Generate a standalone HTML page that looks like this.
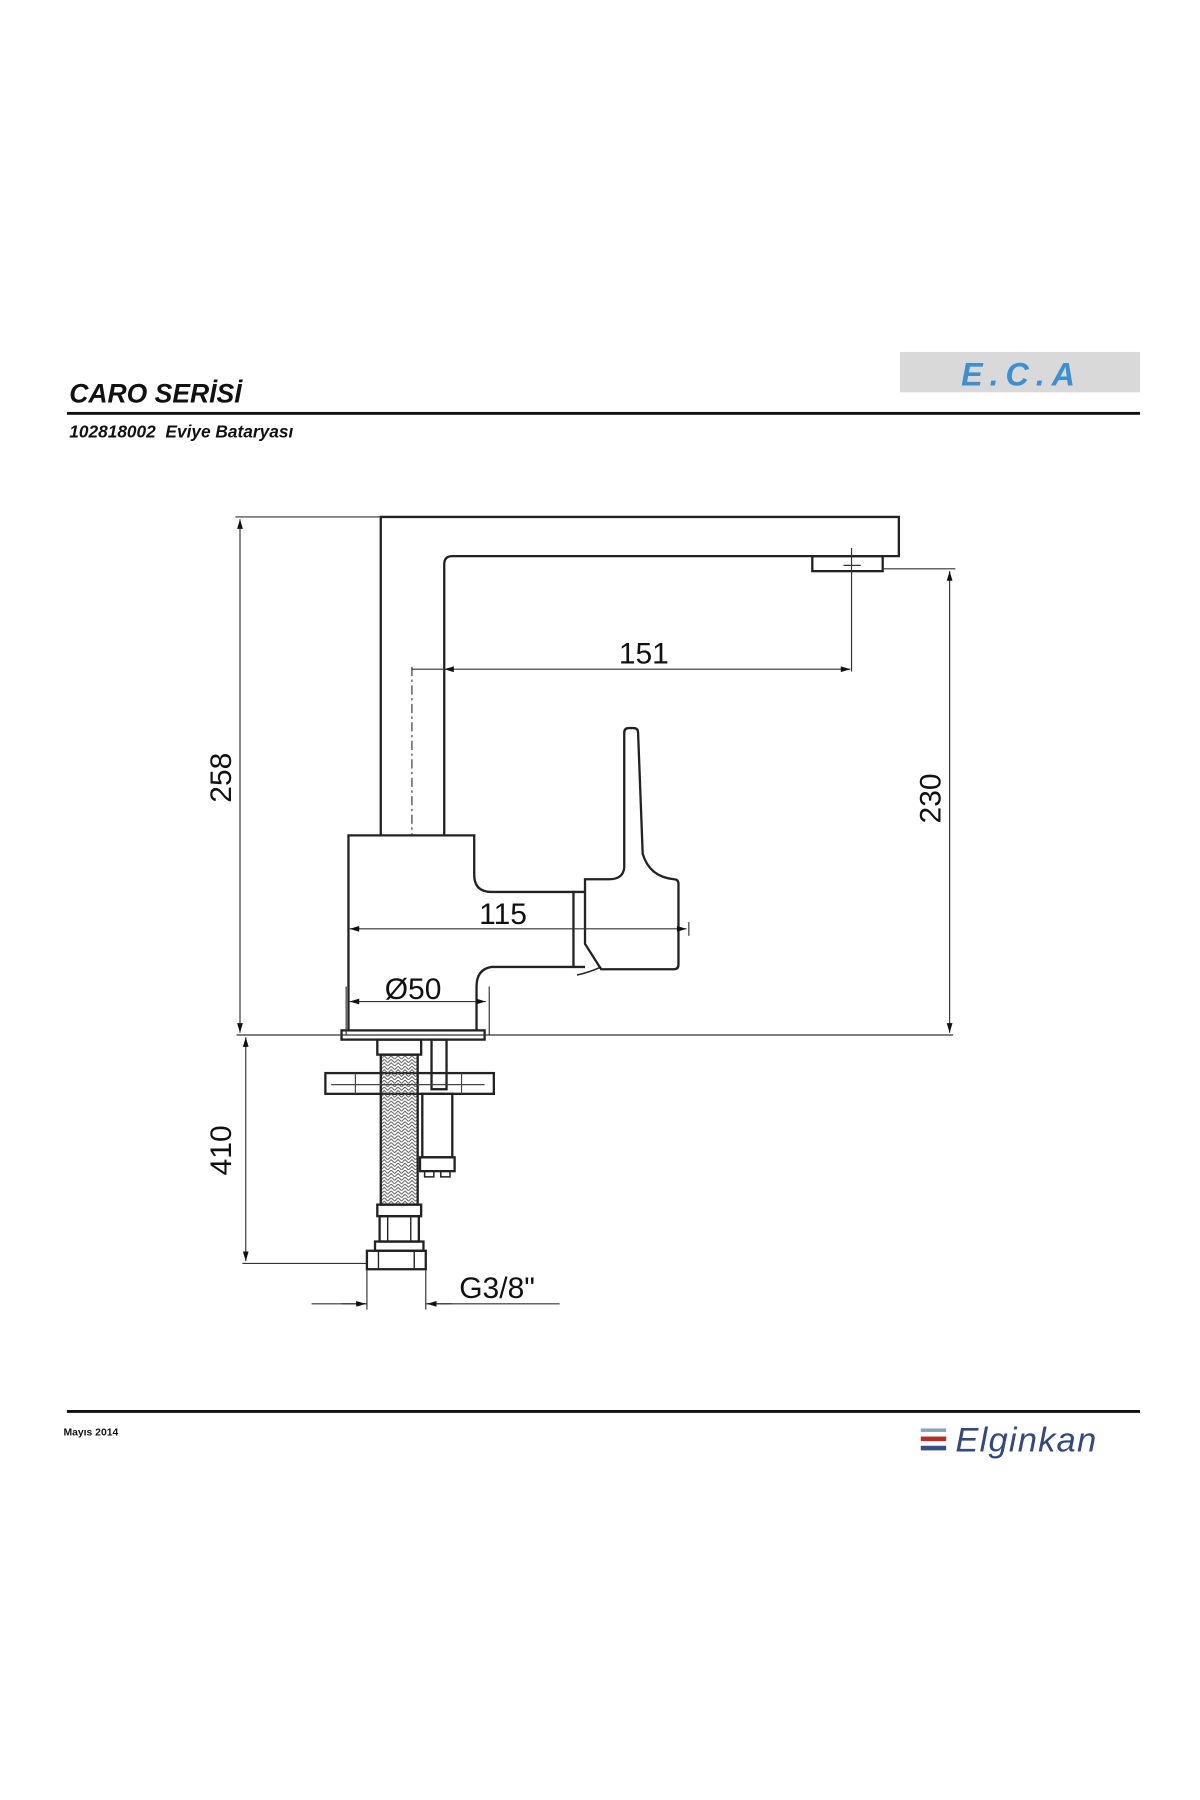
<!DOCTYPE html>
<html><head><meta charset="utf-8"><style>
html,body{margin:0;padding:0;background:#fff}
svg{display:block}
text{font-family:"Liberation Sans",sans-serif}
</style></head><body>
<svg width="1200" height="1800" viewBox="0 0 1040 1560" xmlns="http://www.w3.org/2000/svg">
<defs>
<marker id="a" viewBox="0 0 10 6" refX="10" refY="3" markerWidth="14" markerHeight="5" orient="auto-start-reverse" markerUnits="userSpaceOnUse"><path d="M0,0 L10,3 L0,6 z" fill="#111"/></marker>
<pattern id="br" width="6" height="6" patternUnits="userSpaceOnUse"><path d="M0,3 L3,0 L6,3 M0,6 L3,3 L6,6" stroke="#555" stroke-width="0.8" fill="none"/></pattern>
</defs>
<!-- header -->
<rect x="780" y="305" width="208" height="35" fill="#d9d9d9"/>
<text x="833" y="334" font-size="28" font-weight="bold" font-style="italic" fill="#3d8fd1" letter-spacing="6">E.C.A</text>
<text x="60" y="349" font-size="23" font-weight="bold" font-style="italic" fill="#111">CARO SERİSİ</text>
<rect x="58" y="357" width="930" height="2.5" fill="#111"/>
<text x="60" y="379" font-size="15" font-weight="bold" font-style="italic" fill="#111">102818002&#160;&#160;Eviye Bataryası</text>
<!-- footer -->
<rect x="58" y="1222" width="930" height="2.5" fill="#111"/>
<text x="55" y="1244" font-size="9" font-weight="bold" fill="#111">Mayıs 2014</text>
<rect x="798" y="1238" width="22" height="3" fill="#8aa0c0"/>
<rect x="798" y="1245" width="22" height="4" fill="#b03030"/>
<rect x="798" y="1253" width="22" height="4" fill="#3a4e80"/>
<text x="828" y="1258" font-size="30" fill="#34487a" font-style="italic" letter-spacing="1">Elginkan</text>
<!-- faucet -->
<g fill="none" stroke="#222" stroke-width="2">
<path d="M330,724 V448 H779 V482 H392 Q385,482 385,489 V724"/>
<rect x="704" y="482" width="61" height="13"/>
<path d="M302,893 V724 H411 V758 Q411,773 426,773 H497 V838 H426 Q413,840 413,855 V893"/>
<path d="M497,773 H507 M497,838 H507"/>
<path d="M507,762 V818 L521,840 H584 Q588,840 588,836 V766 Q588,762 584,762 Q563,760 557,740 L553,635 Q553,631 549,631 H545 Q541,631 541,635 L541,752 Q540,762 528,762 Z"/>
<path d="M500,845 Q510,843 521,838" stroke-width="1.3"/>
<rect x="296" y="893" width="124" height="8"/>
<rect x="282" y="930" width="146" height="18"/>
<rect x="374" y="901" width="13" height="43"/>
<rect x="366" y="948" width="26" height="55"/>
<rect x="364" y="1003" width="30" height="12"/>
<path d="M368,1015 V1020 H376 V1015 M382,1015 V1020 H390 V1015" stroke-width="1.3"/>
<rect x="327" y="901" width="38" height="13"/>
<rect x="330" y="914" width="32" height="130" fill="url(#br)"/>
<rect x="327" y="1044" width="38" height="10"/>
<rect x="329" y="1054" width="34" height="22"/>
<rect x="325" y="1076" width="42" height="8"/>
<rect x="318" y="1084" width="51" height="16"/>
<path d="M328,1084 V1100 M359,1084 V1100 M336,1054 V1076 M356,1054 V1076" stroke-width="1.2"/>
</g>
<path d="M287,940 H420 M308,930 V948 M400,930 V948" stroke="#444" stroke-width="1" fill="none"/>
<!-- dims -->
<g stroke="#333" stroke-width="1" fill="none">
<path d="M204,448 H330"/>
<path d="M208,450 V895" marker-start="url(#a)" marker-end="url(#a)"/>
<path d="M205,897 H826"/>
<path d="M213,899 V1093" marker-start="url(#a)" marker-end="url(#a)"/>
<path d="M210,1095 H318"/>
<path d="M765,493 H828"/>
<path d="M823,495 V895" marker-start="url(#a)" marker-end="url(#a)"/>
<path d="M738,475 V582 M731,490 H746"/>
<path d="M357,578 V724" stroke-dasharray="8,3,2,3"/>
<path d="M385,580 H737" marker-start="url(#a)" marker-end="url(#a)"/>
<path d="M357,580 H385"/>
<path d="M303,805 H595" marker-start="url(#a)" marker-end="url(#a)"/>
<path d="M597,799 V811"/>
<path d="M303,868 H421" marker-start="url(#a)" marker-end="url(#a)"/>
<path d="M300,855 V897 M424,855 V897"/>
<path d="M318,1100 V1135 M369,1100 V1135"/>
<path d="M270,1130 H318 M369,1130 H485"/>
<path d="M296,1130 H317" marker-end="url(#a)"/>
<path d="M392,1130 H370" marker-end="url(#a)"/>
</g>
<g font-size="26" fill="#111">
<text x="558" y="575" text-anchor="middle">151</text>
<text x="436" y="801" text-anchor="middle">115</text>
<text x="358" y="866" text-anchor="middle">Ø50</text>
<text x="398" y="1125">G3/8"</text>
<text transform="translate(200,674) rotate(-90)" text-anchor="middle">258</text>
<text transform="translate(815,692) rotate(-90)" text-anchor="middle">230</text>
<text transform="translate(200,997) rotate(-90)" text-anchor="middle">410</text>
</g>
</svg>
</body></html>
